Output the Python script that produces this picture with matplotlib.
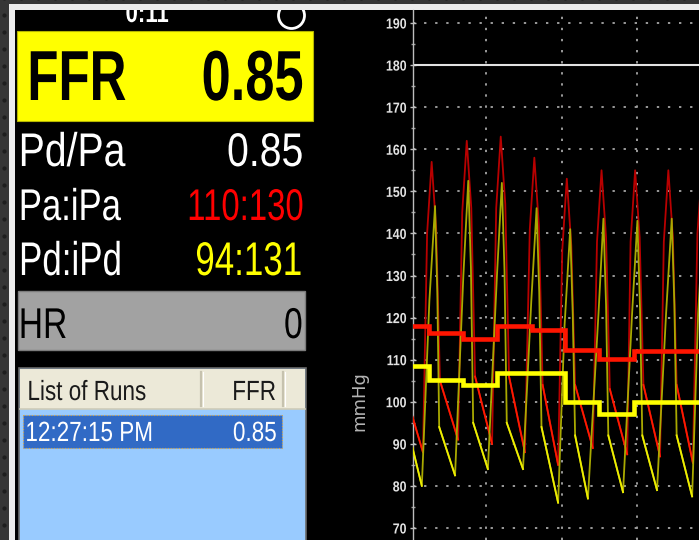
import matplotlib
matplotlib.use("Agg")
import matplotlib.pyplot as plt
from matplotlib.patches import Rectangle, Circle
from matplotlib import patheffects as pe
from matplotlib.transforms import Affine2D, Bbox, TransformedBbox
from matplotlib import font_manager as fm

# ---------------------------------------------------------------- data
# readouts shown in the side panel
ffr_value = "0.85"
pd_pa_value = "0.85"
pa_ipa = "110:130"
pd_ipd = "94:131"
hr_value = "0"
timer_text = "0:11"
run_times = ["12:27:15 PM"]
run_ffr = ["0.85"]

# pressure axis
y_ticks = [70, 80, 90, 100, 110, 120, 130, 140, 150, 160, 170, 180, 190]
x_grid_s = [2, 4, 6]
reference_line = 180

# aortic pressure (Pa): per beat trough, upstroke, systolic peak, downstroke, notch
pa_start = (0.0, 98)
pa_trough_t = [0.33, 1.26, 2.16, 3.03, 3.91, 4.83, 5.74, 6.61, 7.48]
pa_trough_v = [88, 91, 90, 88, 85, 89, 87.5, 87, 85.5]
pa_rise_t = [0.44, 1.37, 2.27, 3.16, 4.02, 4.94, 5.83, 6.71, 7.60]
pa_rise_v = [140, 145, 146, 141, 136, 138, 138, 138, 140]
pa_peak_t = [0.56, 1.49, 2.39, 3.28, 4.14, 5.06, 5.95, 6.83, 7.72]
pa_peak_v = [157, 162, 163, 158, 153, 155, 155, 155, 155]
pa_fall_t = [0.68, 1.61, 2.51, 3.40, 4.26, 5.18, 6.07, 6.95]
pa_fall_v = [141, 146, 147, 142, 137, 139, 139, 139]
pa_notch_t = [0.78, 1.71, 2.61, 3.50, 4.36, 5.28, 6.17, 7.05]
pa_notch_v = [105, 106, 106, 104, 104, 103, 104, 104]

# distal pressure (Pd)
pd_start = (0.0, 91)
pd_trough_t = [0.30, 1.18, 2.05, 2.98, 3.91, 4.70, 5.63, 6.53, 7.46]
pd_trough_v = [80, 82.5, 84, 84, 76, 77, 78.5, 79, 77.5]
pd_rise_t = [0.50, 1.40, 2.29, 3.20, 4.08, 4.98, 5.87, 6.77, 7.62]
pd_rise_v = [124, 130, 130, 124, 118, 121, 121, 121, 121]
pd_peak_t = [0.65, 1.53, 2.42, 3.34, 4.23, 5.11, 6.01, 6.92, 7.76]
pd_peak_v = [146.5, 152.5, 152, 146, 141, 143.5, 143, 143.5, 143]
pd_fall_t = [0.71, 1.60, 2.49, 3.41, 4.30, 5.18, 6.08, 6.99]
pd_fall_v = [126, 132, 131, 126, 120, 123, 122, 123]
pd_notch_t = [0.76, 1.66, 2.55, 3.47, 4.36, 5.24, 6.14, 7.05]
pd_notch_v = [94, 95, 95, 94, 92, 92, 92, 92]

# beat-averaged means (step traces)
pa_mean_edges = [0.0, 0.50, 1.38, 2.29, 3.22, 4.09, 4.99, 5.91, 7.80]
pa_mean = [118, 116.3, 115, 118, 117, 112.2, 110.2, 112]
pd_mean_edges = [0.0, 0.50, 1.38, 2.29, 4.09, 4.99, 5.91, 7.80]
pd_mean = [108.6, 105.2, 104, 106.9, 100, 97.2, 100]

# ---------------------------------------------------------------- fonts
_names = {f.name for f in fm.fontManager.ttflist}
SANS = "Liberation Sans" if "Liberation Sans" in _names else "DejaVu Sans"


class Squeeze(pe.AbstractPathEffect):
    """Draw a text narrower, keeping its aligned edge in place."""

    def __init__(self, sx, anchor="left"):
        super().__init__()
        self.sx = sx
        self.anchor = anchor

    def draw_path(self, renderer, gc, tpath, affine, rgbFace=None):
        ext = tpath.get_extents()
        px = {"left": ext.x0, "right": ext.x1,
              "center": 0.5 * (ext.x0 + ext.x1)}[self.anchor]
        sq = Affine2D().translate(-px, 0).scale(self.sx, 1).translate(px, 0)
        renderer.draw_path(gc, tpath, sq + affine, rgbFace)


# ---------------------------------------------------------------- figure
W, H = 699, 540
fig = plt.figure(figsize=(W / 100, H / 100), dpi=100)
fig.patch.set_facecolor("#363636")

ui = fig.add_axes([0, 0, 1, 1])
ui.set_xlim(0, W)
ui.set_ylim(H, 0)
ui.axis("off")

# textured bezel
bx, by = [], []
for gx in range(4, W, 17):
    for gy in range(-2, H, 17):
        bx.append(gx)
        by.append(gy)
ui.scatter(bx, by, s=9, color="#1e1e1e", lw=0, zorder=1)

ui.add_patch(Rectangle((9, 4), W, H, fc="#ececec", ec="none", zorder=2))
ui.add_patch(Rectangle((15, 10), W, H, fc="black", ec="none", zorder=3))
screen_box = TransformedBbox(Bbox([[15, 10], [W, H]]), ui.transData)


def txt(x, y, s, size, color, sx, ha="left", weight="normal", clip=False):
    t = ui.text(x, y, s, fontsize=size, color=color, ha=ha, va="baseline",
                fontweight=weight, family=SANS, zorder=6,
                path_effects=[Squeeze(sx, ha)])
    if clip:
        t.set_clip_on(True)
        t.set_clip_box(screen_box)
    return t


# timer and status ring at the top edge
txt(147, 22, timer_text, 20, "white", 0.8, ha="center", weight="bold",
    clip=True)
ring = Circle((291.5, 15.5), 13, fc="none", ec="white", lw=2.0, zorder=6)
ui.add_patch(ring)
ring.set_clip_on(True)
ring.set_clip_box(screen_box)

# FFR box
ui.add_patch(Rectangle((17, 31), 296, 90, fc="#ffff00", ec="#b5b500",
                       lw=0.8, zorder=4))
txt(26, 100, "FFR", 51, "black", 0.72, weight="bold")
txt(304, 100, ffr_value, 51, "black", 0.74, ha="right", weight="bold")

# pressure readouts
txt(18, 166, "Pd/Pa", 34, "white", 0.83)
txt(304, 166, pd_pa_value, 34, "white", 0.83, ha="right")
txt(18, 220, "Pa:iPa", 32, "white", 0.78)
txt(304, 220, pa_ipa, 32, "#ff0000", 0.74, ha="right")
txt(18, 275, "Pd:iPd", 34, "white", 0.74)
txt(303, 275, pd_ipd, 34, "#ffff00", 0.74, ha="right")

# heart rate box
ui.add_patch(Rectangle((18, 291), 287, 59, fc="#a2a2a2", ec="#7c7c7c",
                       lw=1.0, zorder=4))
txt(18, 338, "HR", 31, "black", 0.78)
txt(303, 338, hr_value, 31, "black", 0.78, ha="right")

# list of runs
ui.add_patch(Rectangle((19, 368), 287, 180, fc="#99cbff", ec="#6a6a6a",
                       lw=1.2, zorder=4))
ui.add_patch(Rectangle((20, 369), 285, 40, fc="#ece9d8", ec="none", zorder=4))
ui.plot([20, 305], [409, 409], color="#cfcbb8", lw=1.2, zorder=5)
for dx in (201, 283):
    ui.plot([dx, dx], [372, 406], color="#c6c2ae", lw=1.6, zorder=5)
    ui.plot([dx + 1.5, dx + 1.5], [372, 406], color="#ffffff", lw=0.8,
            zorder=5)
txt(27, 400, "List of Runs", 20, "#1a1a1a", 0.81)
txt(276, 400, "FFR", 20, "#1a1a1a", 0.81, ha="right")

row_top = 415
for i, (rt, rv) in enumerate(zip(run_times, run_ffr)):
    y0 = row_top + i * 33
    ui.add_patch(Rectangle((23, y0), 259, 33, fc="#316ac5", ec="#d9a84a",
                           lw=0.8, ls=(0, (1, 1.5)), zorder=5))
    txt(25, y0 + 26, rt, 20, "white", 0.81)
    txt(277, y0 + 26, rv, 20, "white", 0.81, ha="right")

# ---------------------------------------------------------------- chart
ax = fig.add_axes([413 / W, 0, 1 - 413 / W, 1 - 10 / H], zorder=2)
ax.set_facecolor("black")
ax.set_xlim(0.066, 7.642)
ax.set_ylim(67.15, 193.09)

ax.set_yticks(y_ticks)
ax.set_yticks([v + 5 for v in y_ticks[:-1]], minor=True)
ax.set_xticks(x_grid_s)
ax.tick_params(axis="x", length=0, labelbottom=False)
ax.tick_params(axis="y", which="major", direction="inout", length=5,
               width=1, color="#bdbdbd", pad=2, labelsize=10.5,
               labelcolor="#e2e2e2")
ax.tick_params(axis="y", which="minor", direction="inout", length=3,
               width=1, color="#9a9a9a")
for lab in ax.get_yticklabels():
    lab.set_fontweight("bold")
    lab.set_fontfamily(SANS)
    lab.set_path_effects([Squeeze(0.85, "right")])

for side in ("top", "right", "bottom"):
    ax.spines[side].set_visible(False)
ax.spines["left"].set_color("#bdbdbd")
ax.spines["left"].set_linewidth(1.0)

ax.grid(True, which="major", axis="both", color="#9a9a9a",
        ls=(0, (1.2, 4.5)), lw=1.4)
ax.set_axisbelow(True)
ax.axhline(reference_line, color="#e2e2e2", lw=1.5, zorder=2)

ax.set_ylabel("mmHg", color="#b4b4b4", fontsize=13, family="DejaVu Sans")
ax.yaxis.set_label_coords(-0.157, 0.262)


def trace(start, tt, tv, rt, rv, pt, pv, ft, fv, nt, nv):
    """Full beat-by-beat outline plus the slow diastolic run-offs."""
    xs, ys = [start[0]], [start[1]]
    runoffs = [([start[0], tt[0]], [start[1], tv[0]])]
    for i in range(len(tt)):
        xs += [tt[i], rt[i], pt[i]]
        ys += [tv[i], rv[i], pv[i]]
        if i < len(nt):
            xs += [ft[i], nt[i]]
            ys += [fv[i], nv[i]]
            runoffs.append(([nt[i], tt[i + 1]], [nv[i], tv[i + 1]]))
    return xs, ys, runoffs


pa_x, pa_y, pa_runoff = trace(pa_start, pa_trough_t, pa_trough_v, pa_rise_t,
                              pa_rise_v, pa_peak_t, pa_peak_v, pa_fall_t,
                              pa_fall_v, pa_notch_t, pa_notch_v)
pd_x, pd_y, pd_runoff = trace(pd_start, pd_trough_t, pd_trough_v, pd_rise_t,
                              pd_rise_v, pd_peak_t, pd_peak_v, pd_fall_t,
                              pd_fall_v, pd_notch_t, pd_notch_v)

ax.plot(pa_x, pa_y, color="#b80000", lw=1.3, zorder=3)
for xs, ys in pa_runoff:
    ax.plot(xs, ys, color="#ff1a00", lw=1.3, zorder=3)
ax.plot(pd_x, pd_y, color="#a9a900", lw=1.3, zorder=4)
for xs, ys in pd_runoff:
    ax.plot(xs, ys, color="#eeee00", lw=1.3, zorder=4)

ax.stairs(pa_mean, pa_mean_edges, baseline=None, color="#ff1500", lw=3.3,
          zorder=5)
ax.stairs(pd_mean, pd_mean_edges, baseline=None, color="#ffff00", lw=3.3,
          zorder=6)

fig.savefig("out.png", dpi=100, facecolor=fig.get_facecolor())
